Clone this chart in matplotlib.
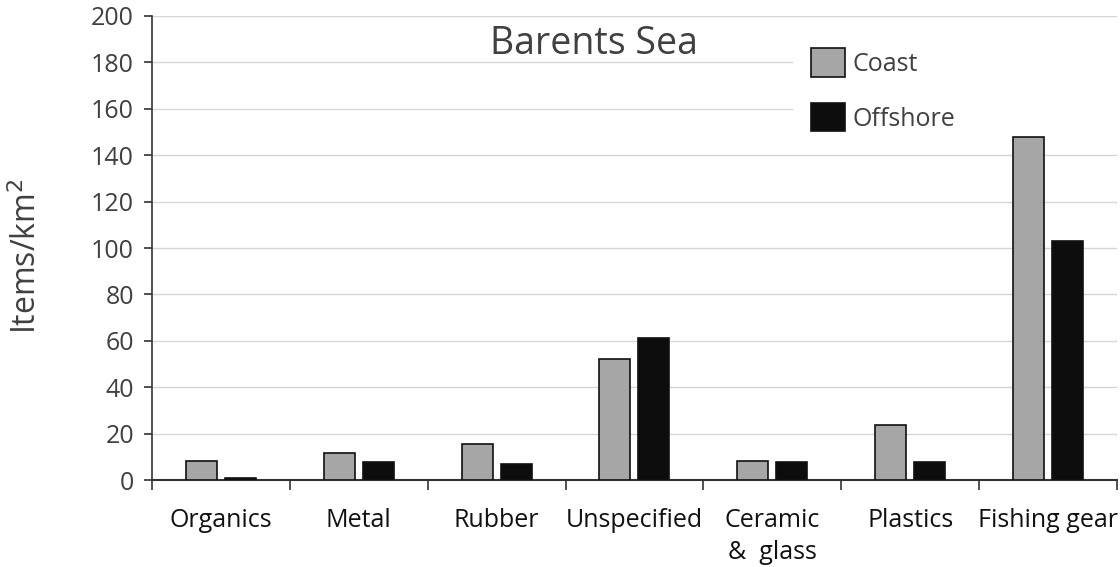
import matplotlib
matplotlib.use("Agg")
import matplotlib.pyplot as plt
from matplotlib.patches import Rectangle
import numpy as np

categories = ["Organics", "Metal", "Rubber", "Unspecified", "Ceramic\n&  glass", "Plastics", "Fishing gear"]
coast = [8.2, 11.6, 15.5, 52, 8.2, 23.7, 148]
offshore = [1, 7.7, 6.9, 61, 7.7, 7.7, 103]
yticks = list(range(0, 201, 20))

plt.rcParams['font.family'] = ['Open Sans', 'DejaVu Sans']
txt = '#404040'

fig = plt.figure(figsize=(11.2, 5.67), dpi=100)
ax = fig.add_axes([0.1357, 0.1534, 0.8616, 0.8184])

x = np.arange(len(categories))
w = 0.225
gap = 0.058
ax.bar(x - (w + gap) / 2, coast, w, color='#a6a6a6', edgecolor='#111111', linewidth=1.2, label='Coast', zorder=3)
ax.bar(x + (w + gap) / 2, offshore, w, color='#0d0d0d', edgecolor='#111111', linewidth=1.2, label='Offshore', zorder=3)

ax.set_xlim(-0.5, len(categories) - 0.5)
ax.set_ylim(0, 200)
ax.set_yticks(yticks)
ax.grid(axis='y', color='#d6d6d6', linewidth=1.0, zorder=0)
ax.set_axisbelow(True)

# white legend area covering gridlines behind legend
ax.add_patch(Rectangle((0.664, 0.722), 0.34, 0.255, transform=ax.transAxes,
                       facecolor='white', edgecolor='none', zorder=1, clip_on=False))

ax.set_xticks(x)
ax.set_xticklabels(categories, fontsize=18, color='#111111', linespacing=1.4)
ax.tick_params(axis='x', which='major', length=0, pad=20)
ax.set_xticks(np.arange(-0.5, len(categories), 1), minor=True)
ax.tick_params(axis='x', which='minor', length=7, width=1.2, color='#333333', direction='out')
ax.tick_params(axis='y', length=6, width=1.2, color='#333333', labelsize=18, labelcolor=txt, pad=7)

for s in ['top', 'right']:
    ax.spines[s].set_visible(False)
ax.spines['left'].set_color('#333333')
ax.spines['left'].set_linewidth(1.2)
ax.spines['bottom'].set_color('#333333')
ax.spines['bottom'].set_linewidth(1.5)

ax.set_ylabel('Items/km$^2$', fontsize=23, color=txt)
ax.yaxis.set_label_coords(-0.112, 0.483)

ax.text(0.458, 0.94, 'Barents Sea', transform=ax.transAxes, fontsize=27, color=txt,
        ha='center', va='center', zorder=5)

leg = ax.legend(loc='upper left', bbox_to_anchor=(0.683, 0.93), frameon=True, fontsize=18,
                handlelength=1.36, handleheight=1.36, labelspacing=1.05, handletextpad=0.3,
                borderpad=0.0, borderaxespad=0)
leg.get_frame().set_edgecolor('white')
leg.get_frame().set_facecolor('white')
leg.get_frame().set_alpha(1)
for t in leg.get_texts():
    t.set_color(txt)

fig.savefig('out.png', dpi=100, facecolor='white')
